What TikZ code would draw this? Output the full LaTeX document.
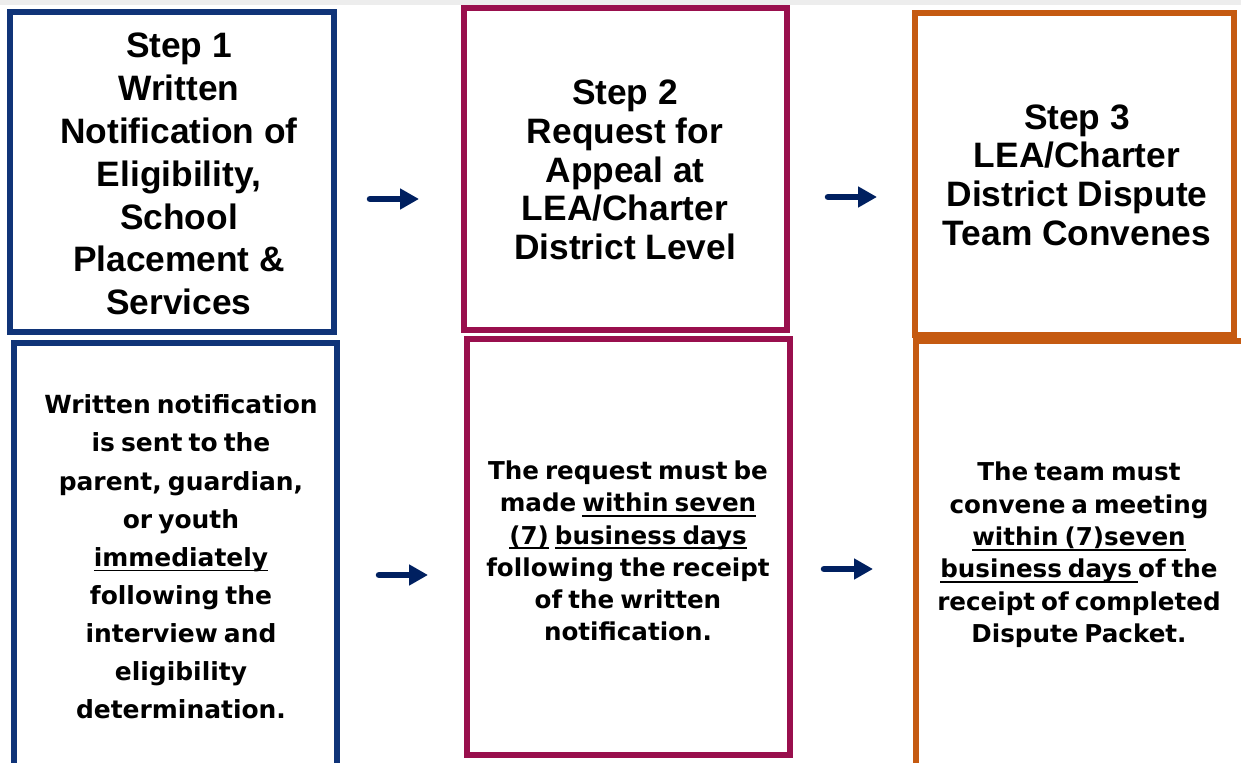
\documentclass[tikz,border=0pt]{standalone}
\usepackage{fontspec}
\setmainfont{Liberation Sans}
\newfontfamily\notefont[WordSpace=0.7]{DejaVu Sans}
\usepackage{tikz}
\usetikzlibrary{arrows.meta, positioning}
\definecolor{stepblue}{RGB}{16,52,120}
\definecolor{stepred}{RGB}{153,15,77}
\definecolor{steporange}{RGB}{197,90,17}
\definecolor{arrowblue}{RGB}{0,32,96}
\newcommand{\ulx}[1]{\setbox0=\hbox{#1}\rlap{\rule[-2.8pt]{\wd0}{0.9pt}}\box0\relax}

\begin{document}
\begin{tikzpicture}[x=0.02cm, y=-0.02cm]
		\tikzstyle{stepbox}=[draw, line width=0.12cm, fill=none, inner sep=0pt]
		\tikzstyle{steptext}=[align=center, inner sep=0pt, text=black, font={\bfseries\fontsize{20.1pt}{22pt}\selectfont}]
		\tikzstyle{notetext}=[align=center, inner sep=0pt, text=black, font={\notefont\bfseries\fontsize{14pt}{18.4pt}\selectfont}]
		\tikzstyle{flow}=[draw=arrowblue, line width=0.13cm, line cap=round, -{Triangle[length=0.38cm, width=0.4cm]}]
		
		\useasboundingbox (0,0) rectangle (1241,763);
		\clip (0,0) rectangle (1241,763);
		\fill[black!7] (0,0) rectangle (1241,5);
		
		%% top row
		\node [stepbox, draw=stepblue, minimum width=6.48cm, minimum height=6.4cm] (step1) at (172,172) {};
		\node [steptext, font={\bfseries\fontsize{20.1pt}{24.4pt}\selectfont}] (step1txt) at (179,174) {Step 1\\Written\\Notification of\\Eligibility,\\School\\Placement \&\\Services};
		
		\node [stepbox, draw=stepred, minimum width=6.46cm, minimum height=6.44cm] (step2) at (625.5,169) {};
		\node [steptext] (step2txt) at (625,170) {Step 2\\Request for\\Appeal at\\LEA/Charter\\District Level};
		
		\node [stepbox, draw=steporange, minimum width=6.38cm, minimum height=6.44cm] (step3) at (1074.5,174) {};
		\node [steptext] (step3txt) at (1077,175) {Step 3\\LEA/Charter\\District Dispute\\Team Convenes};
		
		%% bottom row
		\node [stepbox, draw=stepblue, minimum width=6.46cm, minimum height=9.14cm] (note1) at (175.5,571.5) {};
		\node [notetext, font={\notefont\bfseries\fontsize{14.2pt}{21.7pt}\selectfont}] (note1txt) at (181,557) {Written notification\\is sent to the\\parent, guardian,\\or youth\\\ulx{immediately}\\following the\\interview and\\eligibility\\determination.};
		
		\node [stepbox, draw=stepred, minimum width=6.46cm, minimum height=8.32cm] (note2) at (628.5,547) {};
		\node [notetext] (note2txt) at (628,551) {The request must be\\made \ulx{within seven}\\\ulx{(7)} \ulx{business days}\\following the receipt\\of the written\\notification.};
		
		\node [stepbox, draw=steporange, minimum width=6.56cm, minimum height=9.18cm] (note3) at (1080,570.5) {};
		\node [notetext] (note3txt) at (1079,555) {The team must\\convene a meeting\\\ulx{within (7)seven}\\\ulx{business days\ }of the\\receipt of completed\\Dispute Packet.};
		
		%% arrows between the boxes
		\coordinate (a1s) at (370,199);
		\coordinate (a1e) at (419,199);
		\coordinate (a2s) at (828,197);
		\coordinate (a2e) at (877,197);
		\coordinate (a3s) at (379,575);
		\coordinate (a3e) at (428,575);
		\coordinate (a4s) at (824,569);
		\coordinate (a4e) at (873,569);
		\draw [flow] (a1s) -- (a1e);
		\draw [flow] (a2s) -- (a2e);
		\draw [flow] (a3s) -- (a3e);
		\draw [flow] (a4s) -- (a4e);
		
\end{tikzpicture}
\end{document}
